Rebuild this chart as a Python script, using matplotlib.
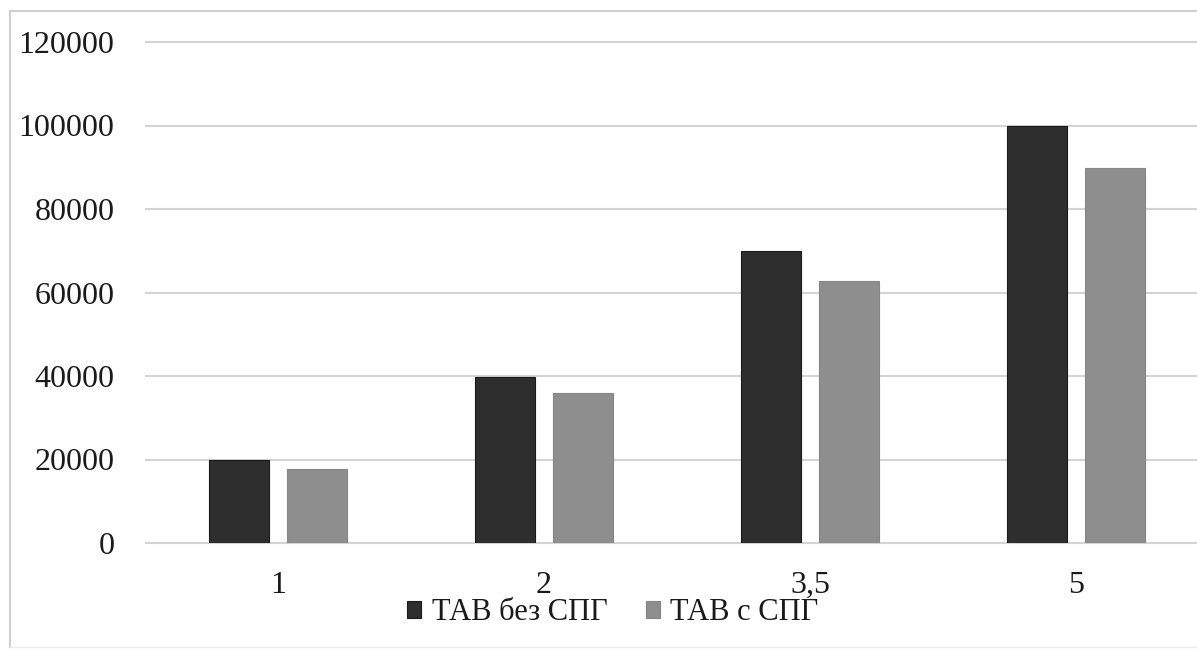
import matplotlib.pyplot as plt
import numpy as np

categories = ["1", "2", "3,5", "5"]
without_spg = [20000, 39800, 70000, 100000]
with_spg = [17700, 36000, 62800, 89800]
series_names = ["ТАВ без СПГ", "ТАВ с СПГ"]
yticks = [0, 20000, 40000, 60000, 80000, 100000, 120000]

plt.rcParams['font.family'] = ['Liberation Serif', 'DejaVu Serif']

fig = plt.figure(figsize=(11.97, 6.5), dpi=100)
W, H = 1197, 650
left_px, right_px = 145, 1197
ax = fig.add_axes([left_px / W, 1 - 543 / H, (right_px - left_px) / W, (543 - 42) / H])

x = np.arange(len(categories))
bw = 0.225
gap = 0.07
dark = "#2e2e2e"
grey = "#8e8e8e"
ax.bar(x - (bw + gap) / 2, without_spg, bw, color=dark, edgecolor="#1a1a1a",
       linewidth=0.8, label=series_names[0], zorder=3)
ax.bar(x + (bw + gap) / 2, with_spg, bw, color=grey, edgecolor="#858585",
       linewidth=0.8, label=series_names[1], zorder=3)

# category slot is 266 px wide; the plot runs off the right edge
slot = 266.0
ax.set_xlim(-0.5, -0.5 + (right_px - left_px) / slot)
ax.set_ylim(0, 120000)
ax.set_yticks(yticks)
ax.set_yticklabels([str(v) for v in yticks])
ax.set_xticks(x)
ax.set_xticklabels(categories)
ax.tick_params(axis='y', length=0, pad=22, labelsize=23, labelcolor="#1a1a1a")
ax.tick_params(axis='x', length=0, pad=20, labelsize=23, labelcolor="#1a1a1a")
# horizontal gridlines running to the right edge of the figure
ax.hlines(yticks, 0, 1.05, transform=ax.get_yaxis_transform(), colors="#d4d4d4",
          linewidth=1.5, zorder=0, clip_on=False)
for s in ax.spines.values():
    s.set_visible(False)

leg = fig.legend(loc='center', bbox_to_anchor=(613 / W, 1 - 613 / H), ncol=2,
                 frameon=False, fontsize=22, handlelength=0.45, handleheight=0.45,
                 handletextpad=0.35, columnspacing=1.25)
for t in leg.get_texts():
    t.set_color("#1a1a1a")

# outer chart frame (left and top edges)
fig.add_artist(plt.Line2D([10 / W, 10 / W], [1 - 11 / H, 1 - 647 / H],
                          transform=fig.transFigure, color="#d0d0d0", linewidth=1.5))
fig.add_artist(plt.Line2D([10 / W, 1.0], [1 - 11 / H, 1 - 11 / H],
                          transform=fig.transFigure, color="#d0d0d0", linewidth=1.5))
fig.add_artist(plt.Line2D([10 / W, 1.0], [1 - 647 / H, 1 - 647 / H],
                          transform=fig.transFigure, color="#ececec", linewidth=1.0))

fig.savefig("out.png", dpi=100)
